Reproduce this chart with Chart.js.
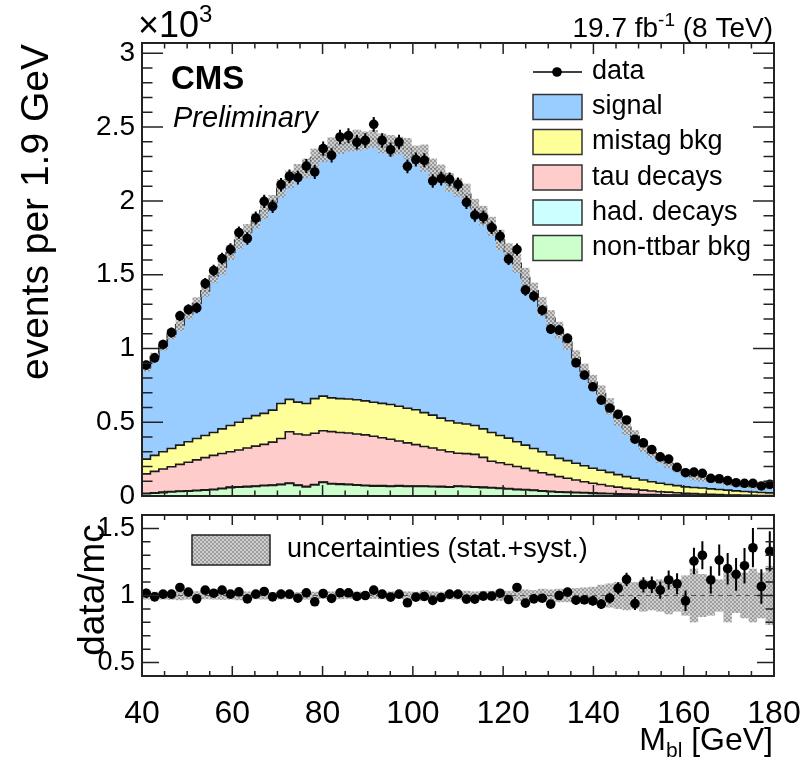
<!DOCTYPE html>
<html>
<head>
<meta charset="utf-8">
<script src="https://cdn.jsdelivr.net/npm/chart.js@4.4.1/dist/chart.umd.min.js"></script>
<style>
  html, body { margin: 0; padding: 0; background: #fff; }
  #wrap { position: relative; width: 805px; height: 761px; overflow: hidden; }
  #top { position: absolute; left: 0; top: 0; }
  #bot { position: absolute; left: 0; top: 505px; }
</style>
</head>
<body>
<div id="wrap">
  <canvas id="top" width="805" height="515"></canvas>
  <canvas id="bot" width="805" height="256"></canvas>
</div>
<script>
// binning of M_bl
const xMin = 40, xMax = 180, nBins = 75;
const xTickValues = [40, 60, 80, 100, 120, 140, 160, 180];
const yTickValues = [0, 500, 1000, 1500, 2000, 2500, 3000];
const ratioTickValues = [0.5, 1, 1.5];

const dataCounts = [887, 936, 1027, 1108, 1221, 1264, 1275, 1440, 1528, 1609,
  1672, 1785, 1745, 1884, 1997, 1963, 2110, 2167, 2158, 2236,
  2196, 2354, 2309, 2433, 2442, 2397, 2410, 2519, 2410, 2347,
  2399, 2234, 2280, 2275, 2135, 2151, 2146, 2112, 1990, 1903,
  1891, 1819, 1760, 1605, 1670, 1395, 1354, 1259, 1131, 1124,
  1068, 903, 819, 740, 650, 596, 553, 515, 385, 360,
  315, 265, 250, 194, 158, 162, 154, 120, 117, 104,
  90, 86, 86, 68, 79];

const signal = [620, 670, 717, 775, 815, 867, 915, 980, 1060, 1095,
  1172, 1235, 1265, 1320, 1375, 1408, 1458, 1490, 1559, 1593,
  1630, 1643, 1695, 1725, 1738, 1758, 1765, 1785, 1762, 1755,
  1767, 1760, 1725, 1725, 1672, 1657, 1615, 1595, 1557, 1477,
  1445, 1398, 1325, 1263, 1207, 1135, 1068, 985, 927, 869,
  802, 714, 641, 583, 519, 448, 385, 334, 285, 232,
  195, 169, 142, 112, 98, 74, 64, 58, 50, 46,
  43, 39, 37, 38, 37];

const mistagBkg = [100, 108, 117, 124, 131, 139, 145, 150, 155, 167,
  178, 188, 200, 207, 210, 217, 237, 220, 216, 214,
  235, 235, 229, 230, 230, 232, 231, 230, 233, 235,
  235, 235, 237, 230, 223, 216, 210, 205, 201, 196,
  193, 195, 185, 179, 168, 158, 150, 142, 133, 124,
  120, 114, 108, 102, 97, 92, 85, 79, 74, 68,
  63, 57, 52, 48, 43, 41, 40, 36, 35, 33,
  29, 26, 23, 21, 18];

const tauDecays = [132, 145, 157, 168, 181, 193, 206, 218, 230, 236,
  240, 249, 260, 270, 278, 290, 310, 347, 345, 348,
  347, 347, 351, 348, 347, 344, 342, 335, 325, 317,
  303, 292, 280, 267, 259, 247, 237, 222, 221, 219,
  202, 177, 171, 163, 154, 143, 132, 122, 113, 102,
  93, 83, 74, 65, 59, 51, 45, 38, 34, 30,
  25, 21, 19, 16, 13, 12, 9, 8, 5, 4,
  3, 2, 2, 1, 1];

const hadDecays = [3, 3, 3, 3, 3, 3, 3, 3, 3, 3,
  3, 3, 3, 3, 3, 3, 3, 3, 3, 3,
  3, 3, 3, 3, 3, 3, 3, 3, 3, 3,
  3, 3, 3, 3, 3, 3, 3, 3, 3, 3,
  3, 3, 3, 3, 3, 3, 3, 3, 3, 3,
  3, 3, 3, 3, 3, 2, 2, 2, 2, 2,
  2, 2, 2, 2, 2, 1, 1, 1, 1, 1,
  1, 1, 1, 1, 1];

const nonTtbarBkg = [15, 19, 23, 27, 30, 33, 36, 39, 42, 49,
  57, 60, 62, 65, 69, 72, 77, 85, 72, 62,
  75, 92, 82, 79, 77, 73, 69, 67, 67, 65,
  67, 65, 65, 65, 63, 62, 60, 65, 63, 60,
  57, 55, 51, 47, 43, 41, 37, 33, 29, 26,
  24, 22, 20, 18, 16, 15, 13, 12, 10, 8,
  7, 6, 5, 4, 4, 4, 4, 3, 3, 2,
  2, 2, 1, 1, 1];

const ratioValues = [1.017, 0.99, 1.01, 1.01, 1.06, 1.025, 0.975, 1.04, 1.017, 1.04,
  1.01, 1.027, 0.975, 1.01, 1.03, 0.99, 1.01, 1.01, 0.98, 1.02,
  0.953, 1.015, 0.978, 1.02, 1.02, 0.993, 1.0, 1.04, 1.01, 0.988,
  1.01, 0.946, 0.988, 0.993, 0.963, 0.985, 1.01, 1.01, 0.973, 0.973,
  0.995, 0.995, 1.017, 0.97, 1.06, 0.943, 0.975, 0.98, 0.936, 1.0,
  1.025, 0.965, 0.968, 0.96, 0.936, 0.98, 1.054, 1.12, 0.94, 1.08,
  1.08, 1.04, 1.116, 1.087, 0.96, 1.257, 1.30, 1.116, 1.264, 1.20,
  1.158, 1.222, 1.356, 1.067, 1.33];

// stat.+syst. relative uncertainty of the prediction
const relUnc = [0.030, 0.028, 0.030, 0.032, 0.035, 0.030, 0.032, 0.028, 0.030, 0.032,
  0.030, 0.035, 0.030, 0.028, 0.030, 0.025, 0.030, 0.028, 0.025, 0.030,
  0.028, 0.025, 0.030, 0.028, 0.025, 0.030, 0.025, 0.025, 0.028, 0.030,
  0.025, 0.030, 0.028, 0.040, 0.030, 0.028, 0.030, 0.030, 0.035, 0.030,
  0.035, 0.035, 0.040, 0.035, 0.040, 0.045, 0.040, 0.050, 0.045, 0.050,
  0.050, 0.055, 0.060, 0.065, 0.080, 0.090, 0.100, 0.110, 0.100, 0.120,
  0.110, 0.120, 0.140, 0.120, 0.150, 0.200, 0.160, 0.150, 0.120, 0.200,
  0.130, 0.170, 0.200, 0.170, 0.220];

const FONT = '"Liberation Sans", Arial, Helvetica, sans-serif';

const binW = (xMax - xMin) / nBins;
const edges = Array.from({ length: nBins + 1 }, (_, i) => xMin + i * binW);
const centers = edges.slice(0, -1).map(e => e + binW / 2);
const toSteps = arr => edges.map((e, i) => ({ x: e, y: arr[Math.min(i, nBins - 1)] }));
const mcTotal = signal.map((s, i) => s + mistagBkg[i] + tauDecays[i] + hadDecays[i] + nonTtbarBkg[i]);

// grey dotted fill used for the uncertainty band
function makePattern() {
  const c = document.createElement("canvas");
  c.width = 4; c.height = 4;
  const g = c.getContext("2d");
  g.fillStyle = "rgba(140,140,140,0.85)";
  g.fillRect(0, 0, 4, 4);
  g.fillStyle = "rgba(215,215,215,0.85)";
  g.fillRect(0, 0, 2, 2);
  g.fillRect(2, 2, 2, 2);
  return g.createPattern(c, "repeat");
}
const bandPattern = makePattern();

function stackSet(label, values, color, fill) {
  return {
    label, data: toSteps(values), stepped: true, fill,
    backgroundColor: color, borderColor: "#1a1a1a", borderWidth: 1.6,
    pointRadius: 0, stack: "mc"
  };
}

// keep the plot frame exactly where the reference has it
function noPad(s) {
  s.paddingLeft = 0; s.paddingRight = 0; s.paddingTop = 0; s.paddingBottom = 0;
}

function drawErrorBars(chart, vals, errs) {
  const { ctx, chartArea: a, scales: { x, y } } = chart;
  ctx.save();
  ctx.beginPath();
  ctx.rect(a.left, a.top, a.width, a.height);
  ctx.clip();
  ctx.strokeStyle = "#000";
  ctx.lineWidth = 2;
  ctx.beginPath();
  centers.forEach((c, i) => {
    const px = x.getPixelForValue(c);
    ctx.moveTo(px, y.getPixelForValue(vals[i] - errs[i]));
    ctx.lineTo(px, y.getPixelForValue(vals[i] + errs[i]));
  });
  ctx.stroke();
  ctx.restore();
}

// ROOT style frame with inward ticks on all four sides
function drawFrame(chart, t) {
  const { ctx, chartArea: a, scales: { x, y } } = chart;
  ctx.save();
  ctx.strokeStyle = "#222";
  ctx.lineWidth = 1.5;
  ctx.beginPath();
  for (let k = 0; ; k++) {
    const v = xMin + k * t.xMinor;
    if (v > xMax + 1e-9) break;
    const len = k % t.xPer === 0 ? t.xLen : t.xLen / 2;
    const px = x.getPixelForValue(v);
    ctx.moveTo(px, a.bottom); ctx.lineTo(px, a.bottom - len);
    ctx.moveTo(px, a.top); ctx.lineTo(px, a.top + len);
  }
  for (let k = 0; ; k++) {
    const v = t.y0 + k * t.yMinor;
    if (v > y.max + 1e-9) break;
    const len = k % t.yPer === 0 ? t.yLen : t.yLen / 2;
    const py = y.getPixelForValue(v);
    ctx.moveTo(a.left, py); ctx.lineTo(a.left + len, py);
    ctx.moveTo(a.right, py); ctx.lineTo(a.right - len, py);
  }
  ctx.stroke();
  ctx.lineWidth = 2;
  ctx.strokeRect(a.left, a.top, a.width, a.height);
  ctx.restore();
}

const topDecor = {
  id: "topDecor",
  afterDatasetDraw(chart, args) {
    if (args.index !== 1) return;
    const { ctx, scales: { x, y } } = chart;
    ctx.save();
    ctx.fillStyle = bandPattern;
    for (let i = 0; i < nBins; i++) {
      const x0 = x.getPixelForValue(edges[i]);
      const x1 = x.getPixelForValue(edges[i + 1]);
      const hi = y.getPixelForValue(mcTotal[i] * (1 + relUnc[i]));
      const lo = y.getPixelForValue(mcTotal[i] * (1 - relUnc[i]));
      ctx.fillRect(x0, hi, x1 - x0, lo - hi);
    }
    ctx.restore();
  },
  afterDatasetsDraw(chart) {
    drawErrorBars(chart, dataCounts, dataCounts.map(Math.sqrt));
    drawFrame(chart, { xMinor: 5, xPer: 4, xLen: 11, y0: 0, yMinor: 100, yPer: 5, yLen: 21 });
  },
  afterDraw(chart) {
    const ctx = chart.ctx;
    ctx.save();
    ctx.fillStyle = "#000";

    // legend
    const ds = chart.data.datasets;
    const rows = [[ds[0], 72], [ds[5], 107], [ds[4], 142], [ds[3], 177.5], [ds[2], 212.5], [ds[1], 248]];
    ctx.font = "27px " + FONT;
    ctx.textBaseline = "middle";
    ctx.textAlign = "left";
    rows.forEach(([d, cy]) => {
      if (d.stack === "data") {
        ctx.strokeStyle = "#000"; ctx.lineWidth = 1.5;
        ctx.beginPath(); ctx.moveTo(533, cy); ctx.lineTo(582, cy); ctx.stroke();
        ctx.beginPath(); ctx.arc(557, cy, 4.8, 0, Math.PI * 2); ctx.fill();
      } else {
        ctx.fillStyle = d.backgroundColor;
        ctx.fillRect(533, cy - 12.5, 49, 25);
        ctx.strokeStyle = "#333"; ctx.lineWidth = 1.5;
        ctx.strokeRect(533, cy - 12.5, 49, 25);
        ctx.fillStyle = "#000";
      }
      ctx.fillText(d.label, 592, cy);
    });

    ctx.textBaseline = "alphabetic";
    ctx.font = "bold 33px " + FONT;
    ctx.fillText("CMS", 171, 89);
    ctx.font = "italic 29px " + FONT;
    ctx.fillText("Preliminary", 173, 127);

    // x10^3
    ctx.font = "36px " + FONT;
    ctx.fillText("\u00d710", 138, 37);
    const w10 = ctx.measureText("\u00d710").width;
    ctx.font = "24px " + FONT;
    ctx.fillText("3", 138 + w10, 22);

    // lumi label, right aligned
    const parts = [["19.7 fb", 28, 0], ["-1", 19, -11], [" (8 TeV)", 28, 0]];
    let total = 0;
    parts.forEach(p => { ctx.font = p[1] + "px " + FONT; total += ctx.measureText(p[0]).width; });
    let px = 773 - total;
    parts.forEach(p => {
      ctx.font = p[1] + "px " + FONT;
      ctx.fillText(p[0], px, 37 + p[2]);
      px += ctx.measureText(p[0]).width;
    });

    // y title
    ctx.translate(48, 212);
    ctx.rotate(-Math.PI / 2);
    ctx.textAlign = "center";
    ctx.font = "39px " + FONT;
    ctx.fillText("events per 1.9 GeV", 0, 0);
    ctx.restore();
  }
};

new Chart(document.getElementById("top"), {
  type: "line",
  data: {
    datasets: [
      {
        label: "data", stack: "data", showLine: false,
        data: centers.map((c, i) => ({ x: c, y: dataCounts[i] })),
        pointRadius: 4.8, pointBackgroundColor: "#000", pointBorderWidth: 0
      },
      stackSet("non-ttbar bkg", nonTtbarBkg, "#ccffcc", "origin"),
      stackSet("had. decays", hadDecays, "#ccffff", "-1"),
      stackSet("tau decays", tauDecays, "#ffcccc", "-1"),
      stackSet("mistag bkg", mistagBkg, "#ffff99", "-1"),
      stackSet("signal", signal, "#99ccff", "-1")
    ]
  },
  options: {
    responsive: false,
    animation: false,
    layout: { padding: { left: 0, right: 31, top: 43, bottom: 19 } },
    plugins: { legend: { display: false }, tooltip: { enabled: false } },
    scales: {
      x: { type: "linear", min: xMin, max: xMax, display: false },
      y: {
        stacked: true, min: 0, max: 3070,
        afterFit: s => { s.width = 142; noPad(s); },
        afterBuildTicks: s => { s.ticks = yTickValues.map(v => ({ value: v })); },
        grid: { display: false, drawTicks: false },
        border: { display: false },
        ticks: { padding: 7, color: "#000", font: { family: FONT, size: 28 }, callback: v => String(v / 1000) }
      }
    }
  },
  plugins: [topDecor]
});

const ratioDecor = {
  id: "ratioDecor",
  beforeDatasetsDraw(chart) {
    const { ctx, chartArea: a, scales: { x, y } } = chart;
    ctx.save();
    ctx.fillStyle = bandPattern;
    for (let i = 0; i < nBins; i++) {
      const x0 = x.getPixelForValue(edges[i]);
      const x1 = x.getPixelForValue(edges[i + 1]);
      const hi = y.getPixelForValue(1 + relUnc[i]);
      const lo = y.getPixelForValue(1 - relUnc[i]);
      ctx.fillRect(x0, hi, x1 - x0, lo - hi);
    }
    ctx.strokeStyle = "#555";
    ctx.lineWidth = 1.2;
    ctx.setLineDash([5, 4]);
    ctx.beginPath();
    ctx.moveTo(a.left, y.getPixelForValue(1));
    ctx.lineTo(a.right, y.getPixelForValue(1));
    ctx.stroke();
    ctx.restore();
  },
  afterDatasetsDraw(chart) {
    drawErrorBars(chart, ratioValues, ratioValues.map((r, i) => r / Math.sqrt(dataCounts[i])));
    drawFrame(chart, { xMinor: 5, xPer: 4, xLen: 10, y0: 0.5, yMinor: 0.1, yPer: 5, yLen: 17 });
  },
  afterDraw(chart) {
    const ctx = chart.ctx;
    ctx.save();
    // legend box
    ctx.fillStyle = bandPattern;
    ctx.fillRect(192, 30, 78, 30);
    ctx.strokeStyle = "#222"; ctx.lineWidth = 1.5;
    ctx.strokeRect(192, 30, 78, 30);
    ctx.fillStyle = "#000";
    ctx.font = "27px " + FONT;
    ctx.textBaseline = "middle";
    ctx.fillText("uncertainties (stat.+syst.)", 287, 45);

    // x title with subscript
    ctx.textBaseline = "alphabetic";
    const pieces = [["M", 32, 0], ["bl", 21, 7], [" [GeV]", 32, 0]];
    let w = 0;
    pieces.forEach(p => { ctx.font = p[1] + "px " + FONT; w += ctx.measureText(p[0]).width; });
    let px = 773 - w;
    pieces.forEach(p => {
      ctx.font = p[1] + "px " + FONT;
      ctx.fillText(p[0], px, 245 + p[2]);
      px += ctx.measureText(p[0]).width;
    });

    // y title
    ctx.translate(104, 85);
    ctx.rotate(-Math.PI / 2);
    ctx.textAlign = "center";
    ctx.font = "37px " + FONT;
    ctx.fillText("data/mc", 0, 0);
    ctx.restore();
  }
};

new Chart(document.getElementById("bot"), {
  type: "line",
  data: {
    datasets: [{
      label: "data/mc", showLine: false,
      data: centers.map((c, i) => ({ x: c, y: ratioValues[i] })),
      pointRadius: 4.8, pointBackgroundColor: "#000", pointBorderWidth: 0
    }]
  },
  options: {
    responsive: false,
    animation: false,
    layout: { padding: { left: 0, right: 31, top: 10, bottom: 0 } },
    plugins: { legend: { display: false }, tooltip: { enabled: false } },
    scales: {
      x: {
        type: "linear", min: xMin, max: xMax,
        afterFit: s => { s.height = 85; noPad(s); },
        afterBuildTicks: s => { s.ticks = xTickValues.map(v => ({ value: v })); },
        grid: { display: false, drawTicks: false },
        border: { display: false },
        ticks: { padding: 19, maxRotation: 0, autoSkip: false, color: "#000", font: { family: FONT, size: 32, lineHeight: 1.2 } }
      },
      y: {
        min: 0.4, max: 1.6,
        afterFit: s => { s.width = 142; noPad(s); },
        afterBuildTicks: s => { s.ticks = ratioTickValues.map(v => ({ value: v })); },
        grid: { display: false, drawTicks: false },
        border: { display: false },
        ticks: { padding: 7, color: "#000", font: { family: FONT, size: 27 }, callback: v => String(v) }
      }
    }
  },
  plugins: [ratioDecor]
});
</script>
</body>
</html>
